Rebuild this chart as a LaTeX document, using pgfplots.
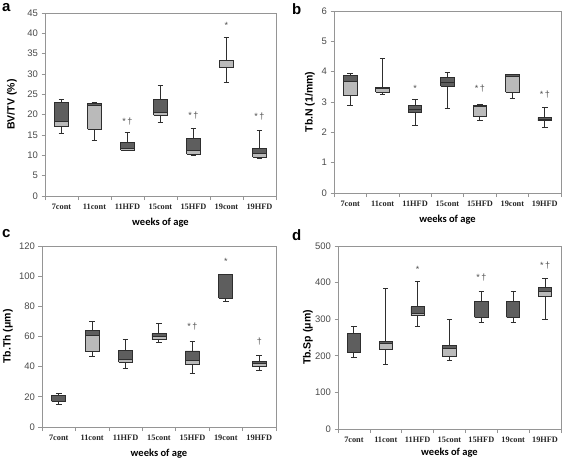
\documentclass[border=0pt]{standalone}
\usepackage{fontspec}
\setmainfont{Liberation Sans}
\newfontfamily\serifb{Liberation Serif}
\newfontfamily\calib{Carlito}
\usepackage{pgfplots}
\pgfplotsset{compat=1.18}
\definecolor{boxdark}{HTML}{5E5E5E}
\definecolor{boxlight}{HTML}{BABABA}
\definecolor{boxline}{HTML}{2E2E2E}
\definecolor{framegray}{HTML}{959595}
\definecolor{ticktext}{HTML}{4A4A4A}
\definecolor{startext}{HTML}{505050}

% pos, lower whisker, Q1, median, Q3, upper whisker, lower fill, upper fill
\newcommand{\bx}[8]{%
 \pgfmathsetmacro\xa{#1-0.21}\pgfmathsetmacro\xb{#1+0.21}%
 \pgfmathsetmacro\ca{#1-0.085}\pgfmathsetmacro\cb{#1+0.085}%
 \addplot[boxline, line width=1pt] coordinates {(#1,#2) (#1,#6)};
 \addplot[boxline, line width=1pt] coordinates {(\ca,#2) (\cb,#2)};
 \addplot[boxline, line width=1pt] coordinates {(\ca,#6) (\cb,#6)};
 \addplot[draw=boxline, line width=0.9pt, line join=miter, fill=#7] coordinates {(\xa,#3) (\xb,#3) (\xb,#4) (\xa,#4) (\xa,#3)};
 \addplot[draw=boxline, line width=0.9pt, line join=miter, fill=#8] coordinates {(\xa,#4) (\xb,#4) (\xb,#5) (\xa,#5) (\xa,#4)};
}

\tikzset{starnode/.style={font=\fontsize{9}{9}\selectfont, text=startext, anchor=base}}

\pgfplotsset{
 myax/.style={
  scale only axis,
  xmin=0.5, xmax=7.5, ymin=0,
  xtick={1,...,7},
  xticklabels={7cont,11cont,11HFD,15cont,15HFD,19cont,19HFD},
  minor xtick={0.5,1.5,...,7.5},
  major x tick style={draw=none},
  tick align=outside,
  tick pos=left,
  major tick length=3.5pt,
  minor tick length=4pt,
  axis line style={draw=framegray, line width=0.7pt},
  tick style={draw=framegray, line width=0.7pt},
  minor tick style={draw=framegray, line width=0.7pt},
  /pgf/number format/assume math mode=true,
  yticklabel style={font=\fontsize{9.5}{10}\selectfont, text=ticktext},
  xticklabel style={font=\serifb\bfseries\fontsize{8.3}{9}\selectfont, text=black!85, yshift=-1pt},
  xlabel={weeks of age},
  xlabel style={font=\calib\bfseries\fontsize{10.5}{11}\selectfont, anchor=center},
  ylabel style={font=\bfseries\fontsize{10.5}{11}\selectfont, anchor=center},
  clip=false,
 },
}

\begin{document}
\begin{tikzpicture}
\path[use as bounding box] (0pt,0pt) rectangle (567pt,-463pt);

% ---------------- a
\begin{axis}[myax, at={(45pt,-196pt)}, anchor=south west, width=231pt, height=183pt,
  ymax=45, ytick={0,5,...,45}, ylabel={BV/TV (\%)},
  ylabel style={at={([xshift=-33pt]axis description cs:0,0.5)}},
  xlabel style={at={([yshift=-27pt]axis description cs:0.5,0)}}]
\bx{1}{15.4}{17.0}{18.4}{23.1}{23.8}{boxlight}{boxdark}
\bx{2}{13.7}{16.4}{22.3}{22.8}{23.0}{boxlight}{boxdark}
\bx{3}{11.1}{11.2}{11.7}{13.1}{15.5}{boxlight}{boxdark}
\bx{4}{18.0}{19.8}{20.5}{23.8}{27.1}{boxlight}{boxdark}
\bx{5}{9.9}{10.3}{11.3}{14.1}{16.5}{boxlight}{boxdark}
\bx{6}{27.8}{31.5}{33.4}{33.4}{38.9}{boxlight}{boxlight}
\bx{7}{9.2}{9.6}{10.4}{11.7}{16.2}{boxlight}{boxdark}
\node[starnode] at (axis cs:3,17.6) {*\,†};
\node[starnode] at (axis cs:5,19.0) {*\,†};
\node[starnode] at (axis cs:6,41.1) {*};
\node[starnode] at (axis cs:7,18.8) {*\,†};
\end{axis}

% ---------------- b
\begin{axis}[myax, at={(334pt,-193pt)}, anchor=south west, width=227pt, height=182pt,
  ymax=6, ytick={0,1,...,6}, ylabel={Tb.N (1/mm)},
  ylabel style={at={([xshift=-24pt]axis description cs:0,0.5)}},
  xlabel style={at={([yshift=-27pt]axis description cs:0.5,0)}}]
\bx{1}{2.90}{3.22}{3.67}{3.89}{3.94}{boxlight}{boxdark}
\bx{2}{3.26}{3.32}{3.44}{3.49}{4.44}{boxlight}{boxdark}
\bx{3}{2.23}{2.66}{2.76}{2.87}{3.09}{boxdark}{boxdark}
\bx{4}{2.79}{3.52}{3.64}{3.81}{3.96}{boxdark}{boxdark}
\bx{5}{2.40}{2.54}{2.84}{2.90}{2.91}{boxlight}{boxdark}
\bx{6}{3.13}{3.32}{3.83}{3.90}{3.90}{boxlight}{boxdark}
\bx{7}{2.16}{2.38}{2.43}{2.49}{2.81}{boxdark}{boxdark}
\node[starnode] at (axis cs:3,3.33) {*};
\node[starnode] at (axis cs:5,3.33) {*\,†};
\node[starnode] at (axis cs:7,3.16) {*\,†};
\end{axis}

% ---------------- c
\begin{axis}[myax, at={(42pt,-427pt)}, anchor=south west, width=234pt, height=181pt,
  ymax=120, ytick={0,20,...,120}, ylabel={Tb.Th (μm)},
  ylabel style={at={([xshift=-34pt]axis description cs:0,0.5)}},
  xlabel style={at={([yshift=-27pt]axis description cs:0.5,0)}}]
\bx{1}{15.2}{17.0}{17.0}{20.6}{22.5}{boxdark}{boxdark}
\bx{2}{46.9}{50.4}{60.6}{64.1}{70.0}{boxlight}{boxdark}
\bx{3}{38.9}{42.9}{45.1}{50.8}{58.1}{boxlight}{boxdark}
\bx{4}{55.9}{57.9}{59.9}{61.9}{68.5}{boxlight}{boxdark}
\bx{5}{35.4}{41.5}{44.2}{50.4}{56.8}{boxlight}{boxdark}
\bx{6}{83.5}{85.5}{85.5}{101.2}{101.2}{boxdark}{boxdark}
\bx{7}{37.6}{40.0}{42.2}{43.5}{47.3}{boxlight}{boxdark}
\node[starnode] at (axis cs:5,64.6) {*\,†};
\node[starnode] at (axis cs:6,108.0) {*};
\node[starnode] at (axis cs:7,54.6) {†};
\end{axis}

% ---------------- d
\begin{axis}[myax, at={(338pt,-429pt)}, anchor=south west, width=223pt, height=183pt,
  ymax=500, ytick={0,100,...,500}, ylabel={Tb.Sp (μm)},
  ylabel style={at={([xshift=-30pt]axis description cs:0,0.5)}},
  xlabel style={at={([yshift=-24pt]axis description cs:0.5,0)}}]
\bx{1}{195}{210}{210}{260}{279}{boxdark}{boxdark}
\bx{2}{177}{217}{233}{239}{385}{boxlight}{boxdark}
\bx{3}{281}{310}{317}{334}{402}{boxlight}{boxdark}
\bx{4}{186}{198}{221}{227}{298}{boxlight}{boxdark}
\bx{5}{290}{305}{305}{349}{375}{boxdark}{boxdark}
\bx{6}{290}{305}{305}{349}{375}{boxdark}{boxdark}
\bx{7}{300}{362}{376}{387}{411}{boxlight}{boxdark}
\node[starnode] at (axis cs:3,428) {*};
\node[starnode] at (axis cs:5,405) {*\,†};
\node[starnode] at (axis cs:7,439) {*\,†};
\end{axis}

% panel letters
\node[anchor=north west, font=\bfseries\fontsize{15}{15}\selectfont, inner sep=0pt] at (2pt,-3pt) {a};
\node[anchor=north west, font=\bfseries\fontsize{15}{15}\selectfont, inner sep=0pt] at (292pt,-3pt) {b};
\node[anchor=north west, font=\bfseries\fontsize{15}{15}\selectfont, inner sep=0pt] at (2pt,-229pt) {c};
\node[anchor=north west, font=\bfseries\fontsize{15}{15}\selectfont, inner sep=0pt] at (292pt,-229pt) {d};
\end{tikzpicture}
\end{document}
